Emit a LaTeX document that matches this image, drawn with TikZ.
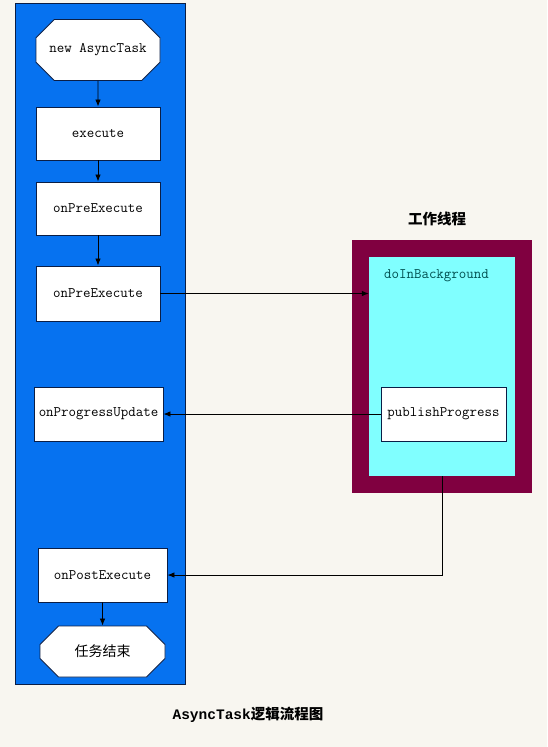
\documentclass[tikz,border=0pt]{standalone}
\usepackage{fontspec}
\newfontfamily\mono{Liberation Mono}
\newfontfamily\cjk{Noto Sans CJK SC}
\usetikzlibrary{shapes.misc,arrows.meta}
\definecolor{bgc}{RGB}{248,246,240}
\definecolor{blueb}{RGB}{6,114,240}
\definecolor{maroon}{RGB}{128,0,64}
\definecolor{cyanb}{RGB}{128,255,255}
\definecolor{edgec}{RGB}{10,30,70}
\definecolor{tealt}{RGB}{0,80,80}
\tikzset{
  stepbox/.style={draw=edgec, line width=0.9pt, fill=white, rectangle, inner sep=0pt, font=\ttfamily\fontsize{14.5}{16}\selectfont},
  octbox/.style={stepbox, chamfered rectangle, chamfered rectangle xsep=12pt, chamfered rectangle ysep=12pt},
  conn/.style={draw=black, line width=0.8pt, -{Latex[length=7pt,width=5.5pt]}}
}
\begin{document}
\begin{tikzpicture}[x=1pt,y=-1pt]
\path[fill=bgc] (0,0) rectangle (547,747);
\useasboundingbox (0,0) rectangle (547,747);
% main thread panel
\node[draw=edgec, line width=0.9pt, fill=blueb, minimum width=170pt, minimum height=681pt, inner sep=0pt] (mainp) at (100,343.5) {};
% worker thread panel
\node[draw=none, fill=maroon, minimum width=180pt, minimum height=253pt, inner sep=0pt] (workp) at (442,366.5) {};
\node[draw=none, fill=cyanb, minimum width=146pt, minimum height=219pt, inner sep=0pt] (cyan) at (442,366.5) {};
\node[font=\cjk\bfseries\fontsize{14.5}{16}\selectfont] (wtitle) at (437,219) {工作线程};
\node[anchor=west, text=tealt, font=\ttfamily\fontsize{14.5}{16}\selectfont, inner sep=0pt] (dib) at (384,276) {doInBackground};
% steps
\node[octbox, minimum width=124pt, minimum height=61pt] (new) at (98,50) {new AsyncTask};
\node[stepbox, minimum width=124pt, minimum height=53pt] (exe) at (98,133.5) {execute};
\node[stepbox, minimum width=124pt, minimum height=53pt] (pre1) at (98,208.5) {onPreExecute};
\node[stepbox, minimum width=124pt, minimum height=55pt] (pre2) at (98,293.5) {onPreExecute};
\node[stepbox, minimum width=129pt, minimum height=54pt] (upd) at (98.5,414) {onProgressUpdate};
\node[stepbox, minimum width=129pt, minimum height=54pt] (post) at (102.5,575) {onPostExecute};
\node[octbox, minimum width=125pt, minimum height=51pt, font=\cjk\fontsize{14}{16}\selectfont] (fin) at (102.5,651.5) {任务结束};
\node[stepbox, minimum width=125pt, minimum height=54pt] (pub) at (443.5,414) {publishProgress};
% connectors
\draw[conn] (new) -- (exe);
\draw[conn] (exe) -- (pre1);
\draw[conn] (pre1) -- (pre2);
\draw[conn] (pre2.east) -- (pre2.east -| cyan.west);
\draw[conn] (pub.west) -- (upd.east);
\draw[conn] (cyan.south) |- (post.east);
\draw[conn] (post) -- (fin);
% caption
\node[font=\fontsize{14.5}{16}\selectfont\bfseries] (cap) at (248,715) {{\mono AsyncTask}{\cjk 逻辑流程图}};
\end{tikzpicture}
\end{document}
